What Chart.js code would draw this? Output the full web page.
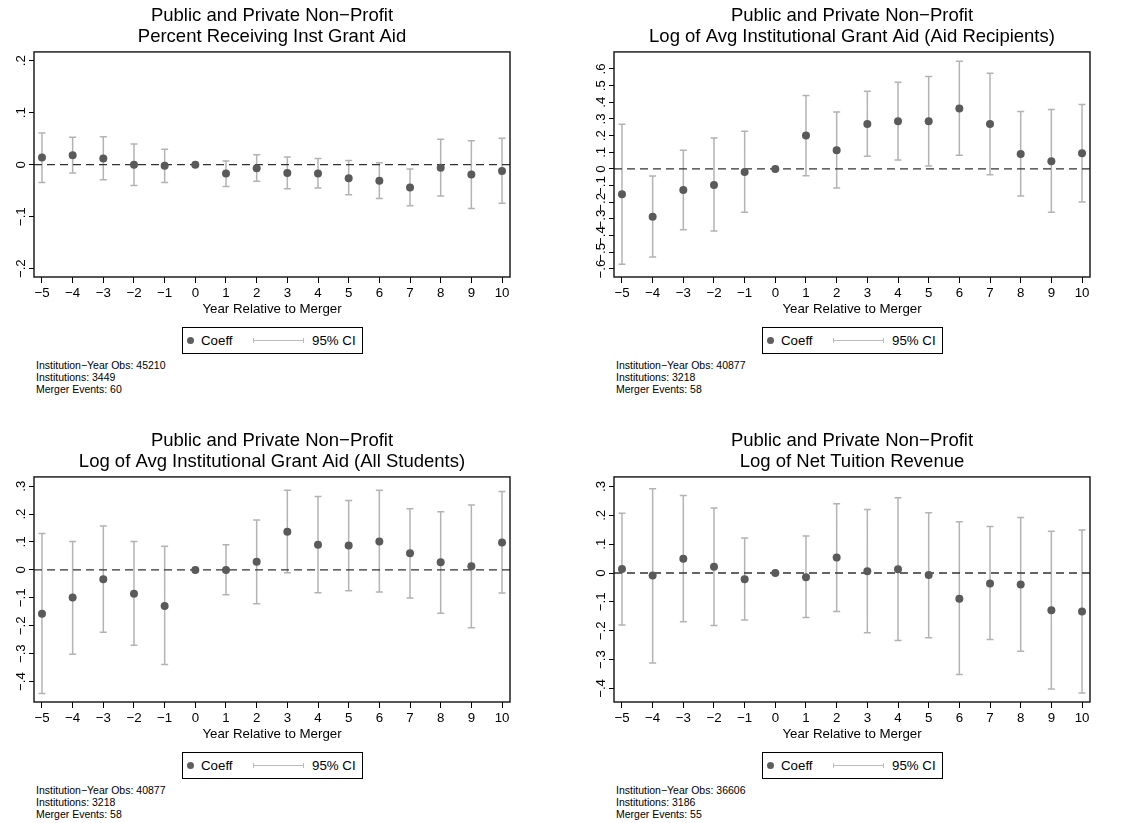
<!DOCTYPE html>
<html>
<head>
<meta charset="utf-8">
<script src="https://cdn.jsdelivr.net/npm/chart.js@4.4.1/dist/chart.umd.min.js"></script>
<style>
  body { margin: 0; background: #fff; width: 1146px; height: 823px; position: relative; overflow: hidden;
         font-family: "Liberation Sans", Arial, sans-serif; color: #000; }
  .panel { position: absolute; width: 573px; height: 400px; }
  .panel canvas { position: absolute; left: 0; top: 0; }
  .legend { position: absolute; left: 182px; top: 327px; width: 179px; height: 25px; border: 1px solid #000; }
  .legend .dot { position: absolute; left: 3.5px; top: 9px; width: 7px; height: 7px; border-radius: 50%; background: #5e5e5e; }
  .legend .lab { position: absolute; top: 0; line-height: 25px; font-size: 13.3px; white-space: nowrap; }
  .legend .ci { position: absolute; left: 70px; top: 12px; width: 51px; height: 0; border-top: 1px solid #bcbcbc; }
  .legend .ci::before, .legend .ci::after { content: ""; position: absolute; top: -3px; height: 5px; border-left: 1px solid #bcbcbc; }
  .legend .ci::before { left: 0; }
  .legend .ci::after { right: 0; }
  .notes { position: absolute; left: 36px; top: 359px; font-size: 10.5px; line-height: 12.2px; white-space: nowrap; }
</style>
</head>
<body>
<script>
// event time
const years = [-5, -4, -3, -2, -1, 0, 1, 2, 3, 4, 5, 6, 7, 8, 9, 10];
const xLabels = ["−5", "−4", "−3", "−2", "−1", "0", "1", "2", "3", "4", "5", "6", "7", "8", "9", "10"];

// Percent receiving inst grant aid
const pctCoeff = [0.014, 0.018, 0.012, 0.000, -0.002, 0, -0.017, -0.007, -0.016, -0.017, -0.026, -0.031, -0.044, -0.006, -0.019, -0.012];
const pctHi = [0.061, 0.053, 0.054, 0.040, 0.030, null, 0.007, 0.019, 0.015, 0.012, 0.008, 0.004, -0.008, 0.049, 0.046, 0.051];
const pctLo = [-0.034, -0.016, -0.029, -0.040, -0.034, null, -0.042, -0.032, -0.046, -0.045, -0.058, -0.065, -0.079, -0.060, -0.084, -0.074];
const pctYTicks = [-0.2, -0.1, 0, 0.1, 0.2];
const pctYLabels = ["−.2", "−.1", "0", ".1", ".2"];

// Log avg inst grant aid (aid recipients)
const recipCoeff = [-0.152, -0.286, -0.126, -0.096, -0.018, 0, 0.200, 0.112, 0.270, 0.286, 0.286, 0.362, 0.270, 0.090, 0.046, 0.094];
const recipHi = [0.268, -0.042, 0.112, 0.186, 0.226, null, 0.440, 0.342, 0.466, 0.520, 0.554, 0.646, 0.574, 0.344, 0.356, 0.386];
const recipLo = [-0.572, -0.528, -0.364, -0.372, -0.260, null, -0.040, -0.114, 0.076, 0.054, 0.018, 0.082, -0.034, -0.162, -0.260, -0.198];
const recipYTicks = [-0.6, -0.5, -0.4, -0.3, -0.2, -0.1, 0, 0.1, 0.2, 0.3, 0.4, 0.5, 0.6];
const recipYLabels = ["−.6", "−.5", "−.4", "−.3", "−.2", "−.1", "0", ".1", ".2", ".3", ".4", ".5", ".6"];

// Log avg inst grant aid (all students)
const allCoeff = [-0.157, -0.099, -0.033, -0.085, -0.129, 0, 0.000, 0.029, 0.137, 0.090, 0.087, 0.102, 0.060, 0.027, 0.013, 0.098];
const allHi = [0.130, 0.102, 0.157, 0.102, 0.085, null, 0.090, 0.179, 0.285, 0.263, 0.249, 0.285, 0.219, 0.208, 0.232, 0.281];
const allLo = [-0.443, -0.302, -0.223, -0.270, -0.339, null, -0.089, -0.121, -0.010, -0.082, -0.075, -0.079, -0.101, -0.155, -0.207, -0.083];
const allYTicks = [-0.4, -0.3, -0.2, -0.1, 0, 0.1, 0.2, 0.3];
const allYLabels = ["−.4", "−.3", "−.2", "−.1", "0", ".1", ".2", ".3"];

// Log net tuition revenue
const tuitCoeff = [0.014, -0.009, 0.049, 0.022, -0.022, 0, -0.015, 0.054, 0.006, 0.013, -0.007, -0.089, -0.036, -0.040, -0.129, -0.133];
const tuitHi = [0.207, 0.292, 0.269, 0.225, 0.121, null, 0.128, 0.240, 0.220, 0.261, 0.209, 0.178, 0.161, 0.192, 0.145, 0.149];
const tuitLo = [-0.180, -0.312, -0.169, -0.182, -0.163, null, -0.154, -0.133, -0.207, -0.234, -0.224, -0.352, -0.230, -0.271, -0.402, -0.416];
const tuitYTicks = [-0.4, -0.3, -0.2, -0.1, 0, 0.1, 0.2, 0.3];
const tuitYLabels = ["−.4", "−.3", "−.2", "−.1", "0", ".1", ".2", ".3"];

const FONT = "'Liberation Sans', Arial, sans-serif";
const DOT = "#5a5a5a";
const BAR = "#b3b3b3";

const panels = [
  { left: 0, top: 0,
    title: ["Public and Private Non−Profit", "Percent Receiving Inst Grant Aid"],
    coeff: pctCoeff, hi: pctHi, lo: pctLo, yMin: -0.216, yMax: 0.217, yTicks: pctYTicks, yLabels: pctYLabels,
    notes: ["Institution−Year Obs: 45210", "Institutions: 3449", "Merger Events: 60"] },
  { left: 580, top: 0,
    title: ["Public and Private Non−Profit", "Log of Avg Institutional Grant Aid (Aid Recipients)"],
    coeff: recipCoeff, hi: recipHi, lo: recipLo, yMin: -0.648, yMax: 0.702, yTicks: recipYTicks, yLabels: recipYLabels,
    notes: ["Institution−Year Obs: 40877", "Institutions: 3218", "Merger Events: 58"] },
  { left: 0, top: 425,
    title: ["Public and Private Non−Profit", "Log of Avg Institutional Grant Aid (All Students)"],
    coeff: allCoeff, hi: allHi, lo: allLo, yMin: -0.473, yMax: 0.333, yTicks: allYTicks, yLabels: allYLabels,
    notes: ["Institution−Year Obs: 40877", "Institutions: 3218", "Merger Events: 58"] },
  { left: 580, top: 425,
    title: ["Public and Private Non−Profit", "Log of Net Tuition Revenue"],
    coeff: tuitCoeff, hi: tuitHi, lo: tuitLo, yMin: -0.447, yMax: 0.333, yTicks: tuitYTicks, yLabels: tuitYLabels,
    notes: ["Institution−Year Obs: 36606", "Institutions: 3186", "Merger Events: 55"] },
];

// error bars, zero line, plot box and rotated y labels (Stata style)
function makeOverlay(panel) {
  return {
    id: "overlay",
    beforeDatasetsDraw(chart) {
      const { ctx, chartArea, scales: { x, y } } = chart;
      ctx.save();
      ctx.strokeStyle = BAR;
      ctx.lineWidth = 1.5;
      ctx.beginPath();
      years.forEach((yr, i) => {
        if (panel.hi[i] === null) return;
        const px = x.getPixelForValue(yr);
        const top = y.getPixelForValue(panel.hi[i]);
        const bot = y.getPixelForValue(panel.lo[i]);
        ctx.moveTo(px, top); ctx.lineTo(px, bot);
        ctx.moveTo(px - 3.5, top); ctx.lineTo(px + 3.5, top);
        ctx.moveTo(px - 3.5, bot); ctx.lineTo(px + 3.5, bot);
      });
      ctx.stroke();

      const y0 = y.getPixelForValue(0);
      ctx.strokeStyle = "#333";
      ctx.lineWidth = 1.3;
      ctx.setLineDash([8, 5]);
      ctx.beginPath();
      ctx.moveTo(chartArea.left, y0);
      ctx.lineTo(chartArea.right, y0);
      ctx.stroke();
      ctx.restore();
    },
    afterDraw(chart) {
      const { ctx, chartArea, scales: { y } } = chart;
      ctx.save();
      ctx.strokeStyle = "#111";
      ctx.lineWidth = 1.4;
      ctx.strokeRect(chartArea.left, chartArea.top, chartArea.right - chartArea.left, chartArea.bottom - chartArea.top);

      ctx.fillStyle = "#000";
      ctx.font = "13.3px " + FONT;
      ctx.textAlign = "center";
      ctx.textBaseline = "middle";
      panel.yTicks.forEach((v, i) => {
        ctx.save();
        ctx.translate(chartArea.left - 13, y.getPixelForValue(v));
        ctx.rotate(-Math.PI / 2);
        ctx.fillText(panel.yLabels[i], 0, 0);
        ctx.restore();
      });
      ctx.restore();
    },
  };
}

function renderPanel(panel) {
  const wrap = document.createElement("div");
  wrap.className = "panel";
  wrap.style.left = panel.left + "px";
  wrap.style.top = panel.top + "px";

  const canvas = document.createElement("canvas");
  canvas.width = 573;
  canvas.height = 317;
  wrap.appendChild(canvas);

  const legend = document.createElement("div");
  legend.className = "legend";
  legend.innerHTML = '<span class="dot"></span><span class="lab" style="left:18px">Coeff</span>' +
    '<span class="ci"></span><span class="lab" style="left:129px">95% CI</span>';
  wrap.appendChild(legend);

  const notes = document.createElement("div");
  notes.className = "notes";
  notes.innerHTML = panel.notes.join("<br>");
  wrap.appendChild(notes);

  document.body.appendChild(wrap);

  new Chart(canvas.getContext("2d"), {
    type: "scatter",
    data: {
      datasets: [{
        label: "Coeff",
        data: years.map((yr, i) => ({ x: yr, y: panel.coeff[i] })),
        backgroundColor: DOT,
        borderWidth: 0,
        pointRadius: 4,
      }],
    },
    options: {
      responsive: false,
      animation: false,
      events: [],
      layout: { padding: { left: 0, right: 63, top: 0, bottom: 0 } },
      plugins: {
        legend: { display: false },
        tooltip: { enabled: false },
        title: {
          display: true,
          text: panel.title,
          fullSize: false,
          color: "#000",
          font: { family: FONT, size: 18.5, weight: "normal", lineHeight: 1.16 },
          padding: { top: 4.75, bottom: 4.25 },
        },
      },
      scales: {
        x: {
          type: "linear",
          min: -5.26,
          max: 10.26,
          afterBuildTicks: (s) => { s.ticks = years.map((v) => ({ value: v })); },
          afterFit: (s) => { s.height = 40; },
          border: { display: false },
          grid: { drawOnChartArea: false, drawTicks: true, tickLength: 6, color: "#000" },
          ticks: {
            autoSkip: false, maxRotation: 0, minRotation: 0, padding: 2, color: "#000",
            font: { family: FONT, size: 13.3 },
            callback: (v, i) => xLabels[i],
          },
          title: {
            display: true,
            text: "Year Relative to Merger",
            color: "#000",
            font: { family: FONT, size: 13.3 },
            padding: { top: 0, bottom: 0 },
          },
        },
        y: {
          type: "linear",
          min: panel.yMin,
          max: panel.yMax,
          afterBuildTicks: (s) => { s.ticks = panel.yTicks.map((v) => ({ value: v })); },
          afterFit: (s) => { s.width = 34; },
          border: { display: false },
          grid: { drawOnChartArea: false, drawTicks: true, tickLength: 5, color: "#000" },
          ticks: { display: false },
        },
      },
    },
    plugins: [makeOverlay(panel)],
  });
}

panels.forEach(renderPanel);
</script>
</body>
</html>
